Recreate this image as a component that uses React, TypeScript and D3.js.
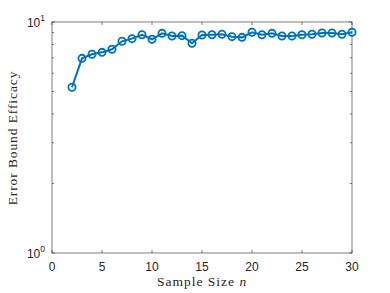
import React from 'react';
import * as d3 from 'd3';

// sample sizes and measured efficacy
const sampleSizes = [2, 3, 4, 5, 6, 7, 8, 9, 10, 11, 12, 13, 14, 15, 16, 17, 18, 19, 20, 21, 22, 23, 24, 25, 26, 27, 28, 29, 30];
const efficacy = [5.22, 6.96, 7.25, 7.39, 7.62, 8.25, 8.47, 8.81, 8.42, 8.93, 8.70, 8.73, 8.09, 8.78, 8.81, 8.85, 8.64, 8.58, 9.03, 8.81, 8.93, 8.70, 8.70, 8.81, 8.85, 8.96, 8.96, 8.85, 9.03];
const xTicks = [0, 5, 10, 15, 20, 25, 30];
const yMajor = [1, 10];
const yMinor = [2, 3, 4, 5, 6, 7, 8, 9];

const W = 390;
const H = 293;
const left = 52, right = 352, top = 22, bottom = 253;
const color = '#0072BD';
const sans = "'Liberation Sans', Arial, Helvetica, sans-serif";
const serif = "'Liberation Serif', 'DejaVu Serif', serif";

export default function App() {
  const x = d3.scaleLinear().domain([0, 30]).range([left, right]);
  const y = d3.scaleLog().domain([1, 10]).range([bottom, top]);

  const pts = sampleSizes.map((n, i) => ({ n, v: efficacy[i] }));
  const line = d3.line<{ n: number; v: number }>()
    .x(d => x(d.n))
    .y(d => y(d.v));

  const axisCol = '#262626';
  const tickLen = 3;

  return (
    <svg width={W} height={H} style={{ position: 'absolute', left: 0, top: 0, background: '#fff' }}>
      {/* ticks */}
      {xTicks.map(t => (
        <g key={'x' + t}>
          <line x1={x(t)} x2={x(t)} y1={bottom} y2={bottom - tickLen} stroke={axisCol} strokeWidth={0.6} />
          <line x1={x(t)} x2={x(t)} y1={top} y2={top + tickLen} stroke={axisCol} strokeWidth={0.6} />
          <text x={x(t)} y={bottom + 18} textAnchor="middle" style={{ fontFamily: sans }} fontSize={12} fill="#262626">{t}</text>
        </g>
      ))}
      {yMinor.map(t => (
        <g key={'m' + t}>
          <line x1={left} x2={left + 2} y1={y(t)} y2={y(t)} stroke={axisCol} strokeWidth={0.6} />
          <line x1={right} x2={right - 2} y1={y(t)} y2={y(t)} stroke={axisCol} strokeWidth={0.6} />
        </g>
      ))}
      {yMajor.map((t, i) => (
        <g key={'y' + t}>
          <line x1={left} x2={left + tickLen} y1={y(t)} y2={y(t)} stroke={axisCol} strokeWidth={0.6} />
          <line x1={right} x2={right - tickLen} y1={y(t)} y2={y(t)} stroke={axisCol} strokeWidth={0.6} />
          <text x={left - 7} y={y(t) + 5} textAnchor="end" style={{ fontFamily: sans }} fontSize={12} fill="#262626">
            10<tspan dy={-6} fontSize={8.5}>{i}</tspan>
          </text>
        </g>
      ))}
      <rect x={left} y={top} width={right - left} height={bottom - top} fill="none" stroke={axisCol} strokeWidth={0.6} />

      {/* series */}
      <path d={line(pts) ?? ''} fill="none" stroke={color} strokeWidth={2} />
      {pts.map(p => (
        <circle key={p.n} cx={x(p.n)} cy={y(p.v)} r={3.6} fill="none" stroke={color} strokeWidth={1.8} />
      ))}

      {/* labels */}
      <text x={(left + right) / 2} y={286} textAnchor="middle" style={{ fontFamily: serif, letterSpacing: '1px' }} fontSize={13.5} fill="#262626">
        Sample Size <tspan fontStyle="italic">n</tspan>
      </text>
      <text transform={`translate(17,138) rotate(-90)`} textAnchor="middle" style={{ fontFamily: serif, letterSpacing: '0.9px' }} fontSize={13.5} fill="#262626">
        Error Bound Efficacy
      </text>
    </svg>
  );
}
